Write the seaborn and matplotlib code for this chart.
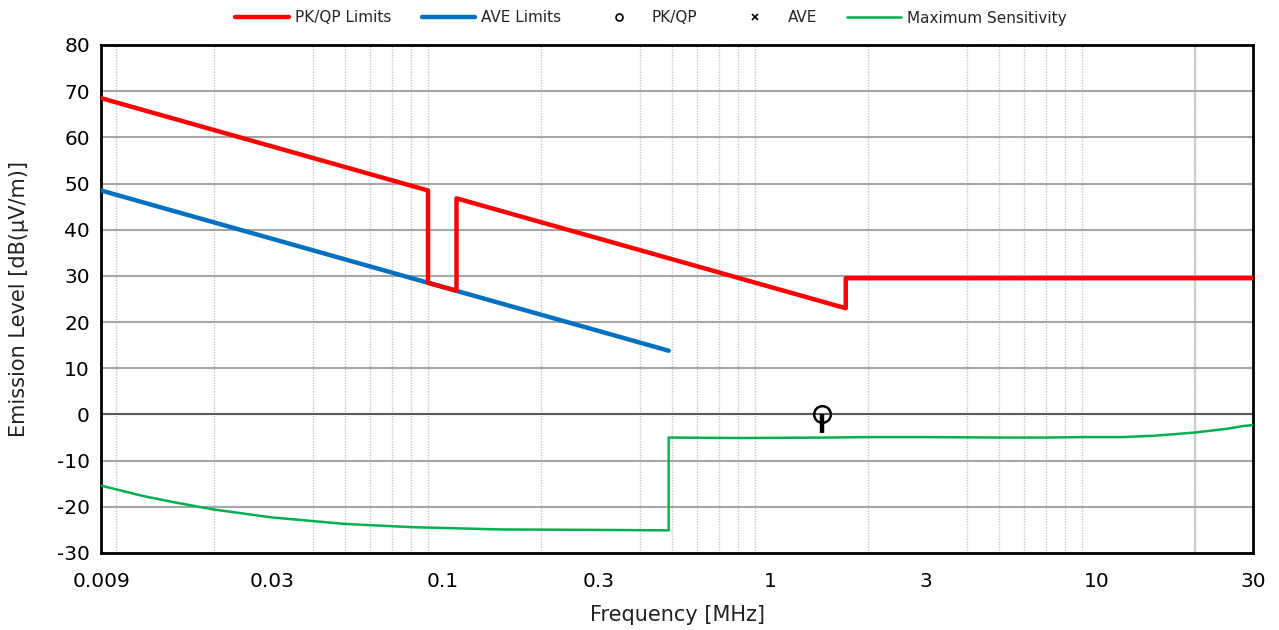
import numpy as np
import pandas as pd
import matplotlib
matplotlib.use("Agg")
import matplotlib.pyplot as plt
from matplotlib.lines import Line2D
from matplotlib.ticker import FixedLocator, NullFormatter, FixedFormatter
import seaborn as sns

# ---- data ----
pkqp_freq = [0.009, 0.09, 0.09, 0.11, 0.11, 1.705, 1.705, 30]
pkqp_level = [68.5, 48.5, 28.5, 26.8, 46.8, 23.0, 29.5, 29.5]

ave_freq = [0.009, 0.49]
ave_level = [48.5, 13.8]

sens_freq = [0.009, 0.012, 0.015, 0.02, 0.03, 0.05, 0.08, 0.15, 0.3, 0.49,
             0.49, 0.8, 1.5, 2, 3, 5, 7, 9, 12, 15, 17, 20, 25, 28, 30]
sens_level = [-15.4, -17.6, -19.0, -20.6, -22.3, -23.7, -24.4, -24.9, -25.0, -25.1,
              -5.0, -5.1, -5.0, -4.9, -4.9, -5.0, -5.0, -4.9, -4.9, -4.6, -4.3, -3.9, -3.1, -2.5, -2.3]

pk_freq = [1.44]
pk_level = [0.0]
pk_bar_low = [-4.0]

xtick_vals = [0.009, 0.03, 0.1, 0.3, 1, 3, 10, 30]
xtick_labels = ["0.009", "0.03", "0.1", "0.3", "1", "3", "10", "30"]
yticks = list(range(-30, 81, 10))

sns.set_theme(style="white")
plt.rcParams['font.family'] = ['DejaVu Sans']
plt.rcParams['axes.unicode_minus'] = False

fig = plt.figure(figsize=(12.79, 6.30), dpi=100)
ax = fig.add_axes([101/1279, 1 - 553/630, (1253 - 101)/1279, (553 - 45)/630])

RED = "#FF0000"
BLUE = "#0070C0"
GREEN = "#00B050"

df_pk = pd.DataFrame({"f": pkqp_freq, "v": pkqp_level})
df_av = pd.DataFrame({"f": ave_freq, "v": ave_level})
df_se = pd.DataFrame({"f": sens_freq, "v": sens_level})

sns.lineplot(data=df_se, x="f", y="v", ax=ax, color=GREEN, lw=1.8, sort=False, estimator=None, zorder=3)
sns.lineplot(data=df_av, x="f", y="v", ax=ax, color=BLUE, lw=3.2, sort=False, estimator=None, zorder=4)
sns.lineplot(data=df_pk, x="f", y="v", ax=ax, color=RED, lw=3.2, sort=False, estimator=None, zorder=5)

# measurement point
ax.vlines(pk_freq, pk_bar_low, pk_level, color="black", lw=3.2, zorder=6)
ax.plot(pk_freq, pk_level, 'o', ms=12, mfc='none', mec='black', mew=1.8, zorder=7)

ax.set_xscale("log")
ax.set_xlim(0.009, 30)
ax.set_ylim(-30, 80)

# grid
minor = [m * 10.0**e for e in range(-3, 2) for m in range(1, 10)]
minor = [v for v in minor if 0.0095 <= v <= 29]
ax.xaxis.set_major_locator(FixedLocator(xtick_vals))
ax.xaxis.set_major_formatter(FixedFormatter(xtick_labels))
ax.xaxis.set_minor_locator(FixedLocator(minor))
ax.xaxis.set_minor_formatter(NullFormatter())
ax.set_yticks(yticks)
ax.grid(False)
ax.grid(which="minor", axis="x", color="#C4C4C4", lw=1.0, ls=(0, (1, 1)), zorder=0)
ax.grid(which="major", axis="y", color="#A6A6A6", lw=1.5, zorder=0)
ax.axhline(0, color="#595959", lw=1.5, zorder=1)
ax.axvline(20, color="#D0D0D0", lw=1.5, zorder=0)

ax.tick_params(axis="x", which="both", length=0, labelsize=14.5, colors="black", pad=14)
ax.tick_params(axis="y", which="both", length=0, labelsize=14.5, colors="black", pad=8)
for s in ax.spines.values():
    s.set_color("black")
    s.set_linewidth(2)

ax.set_xlabel("Frequency [MHz]", fontsize=15, color="#222222", labelpad=10)
ax.set_ylabel("Emission Level [dB(µV/m)]", fontsize=15, color="#222222", labelpad=20)

handles = [
    Line2D([], [], color=RED, lw=3.2),
    Line2D([], [], color=BLUE, lw=3.2),
    Line2D([], [], ls="none", marker="o", ms=5, mfc="none", mec="black", mew=1.2),
    Line2D([], [], ls="none", marker="x", ms=5, color="black", mew=1.2),
    Line2D([], [], color=GREEN, lw=1.8),
]
labels = ["PK/QP Limits", "AVE Limits", "PK/QP", "AVE", "Maximum Sensitivity"]
fig.legend(handles, labels, loc="center", bbox_to_anchor=(651/1279, 1 - 18/630), ncol=5,
           frameon=False, fontsize=11, handlelength=3.5, handletextpad=0.4, columnspacing=2.0)

fig.savefig("out.png", dpi=100)
